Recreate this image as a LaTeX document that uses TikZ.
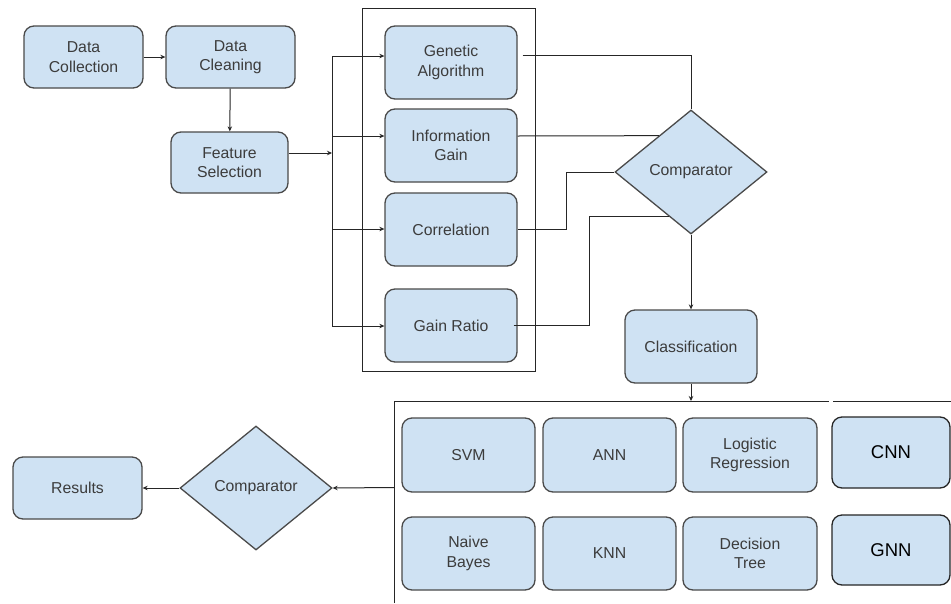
\documentclass[tikz,border=0pt]{standalone}
\usepackage{fontspec}
\setmainfont{Liberation Sans}
\usetikzlibrary{shapes.geometric,arrows.meta,calc}

\definecolor{boxfill}{HTML}{CFE2F3}
\definecolor{boxline}{HTML}{4A4A4A}
\definecolor{txt}{HTML}{3C3C3C}

\tikzset{
  blk/.style={draw=boxline, line width=1.3pt, fill=boxfill, rounded corners=10pt,
    text=txt, align=center, inner sep=0pt, font=\fontsize{15.8}{19.3}\selectfont},
  dnn/.style={blk, draw=black!85, text=black, font=\fontsize{18.5}{21}\selectfont},
  dia/.style={diamond, draw=boxline, line width=1.3pt, fill=boxfill, text=txt,
    inner sep=0pt, font=\fontsize{15.8}{19.3}\selectfont},
  wire/.style={draw=black!85, line width=1pt},
  arr/.style={wire, -{Stealth[length=5pt,width=4.5pt]}},
  frame/.style={draw=black!85, line width=1pt}
}

\begin{document}
\begin{tikzpicture}[x=1pt,y=-1pt]
  \useasboundingbox (0,0) rectangle (951,603);
  \fill[white] (0,0) rectangle (951,603);

  % preprocessing chain
  \node[blk, minimum width=119pt, minimum height=62pt] (dcol) at (83.5,57) {Data\\Collection};
  \node[blk, minimum width=129pt, minimum height=62pt] (dcln) at (230.5,57) {Data\\Cleaning};
  \node[blk, minimum width=117pt, minimum height=61pt] (fsel) at (229.5,162.5) {Feature\\Selection};

  % feature-selection methods
  \draw[frame] (362,8) rectangle (535,371);
  \node[blk, minimum width=132pt, minimum height=73pt] (ga)   at (451,62.5)  {Genetic\\Algorithm};
  \node[blk, minimum width=132pt, minimum height=73pt] (ig)   at (451,145.5) {Information\\Gain};
  \node[blk, minimum width=132pt, minimum height=73pt] (corr) at (451,229.5) {Correlation};
  \node[blk, minimum width=132pt, minimum height=73pt] (gr)   at (451,325.5) {Gain Ratio};

  \node[dia, minimum width=152pt, minimum height=124pt] (cmp) at (691,172) {Comparator};
  \node[blk, minimum width=132pt, minimum height=73pt] (cls) at (691,346.5) {Classification};

  % classifiers
  \node[blk, minimum width=133pt, minimum height=74pt] (svm) at (468.5,455) {SVM};
  \node[blk, minimum width=133pt, minimum height=74pt] (ann) at (609.5,455) {ANN};
  \node[blk, minimum width=134pt, minimum height=74pt] (lr)  at (750,455)   {Logistic\\Regression};
  \node[blk, minimum width=133pt, minimum height=73pt] (nb)  at (468.5,553.5) {Naive\\Bayes};
  \node[blk, minimum width=133pt, minimum height=73pt] (knn) at (609.5,553.5) {KNN};
  \node[blk, minimum width=134pt, minimum height=73pt] (dt)  at (750,553.5)   {Decision\\Tree};
  \node[dnn, minimum width=118pt, minimum height=71pt] (cnn) at (891,452.5) {CNN};
  \node[dnn, minimum width=118pt, minimum height=70pt] (gnn) at (891,550)   {GNN};

  \node[dia, minimum width=152pt, minimum height=124pt] (cmp2) at (256,488) {Comparator};
  \node[blk, minimum width=129pt, minimum height=62pt] (res) at (77.5,488) {Results};

  % frame around the classifiers
  \coordinate (ctl) at (394,401);
  \coordinate (cin) at (394,487.5);
  \draw[frame] (394,603) -- (ctl) -- (829,401);
  \draw[frame] (833,401) -- (951,401);

  % bus feeding the methods
  \coordinate (b1) at (332,56);
  \coordinate (b2) at (332,136);
  \coordinate (b3) at (332,229);
  \coordinate (b4) at (332,326);
  \coordinate (bf) at (332,153);

  \draw[arr] (dcol) -- (dcln);
  \draw[arr] (dcln) -- (fsel);
  \draw[arr] ([yshift=9.5pt]fsel.east) -- (bf);
  \draw[wire] (b1) -- (b4);
  \draw[arr] (b1) -- (b1 -| ga.west);
  \draw[arr] (b2) -- (b2 -| ig.west);
  \draw[arr] (b3) -- (b3 -| corr.west);
  \draw[arr] (b4) -- (b4 -| gr.west);

  % method outputs into the comparator
  \draw[wire] ([xshift=5pt]ga.east |- 0,55) -| (cmp.north);
  \draw[wire] (ig.east |- b2) -- ($(cmp.west)!0.58!(cmp.north)$);
  \draw[wire] (corr.east) -- ++(49,0) |- (cmp.west);
  \draw[wire] ([xshift=-4pt]gr.east) -- ++(76,0) |- ($(cmp.west)!0.71!(cmp.south)$);

  \draw[arr] (cmp.south) -- (cls.north);
  \draw[arr] (cls.south) -- (cls.south |- ctl);

  \draw[arr] (cin) -- (cmp2.east);
  \draw[arr] (cmp2.west) -- (res.east);
\end{tikzpicture}
\end{document}
